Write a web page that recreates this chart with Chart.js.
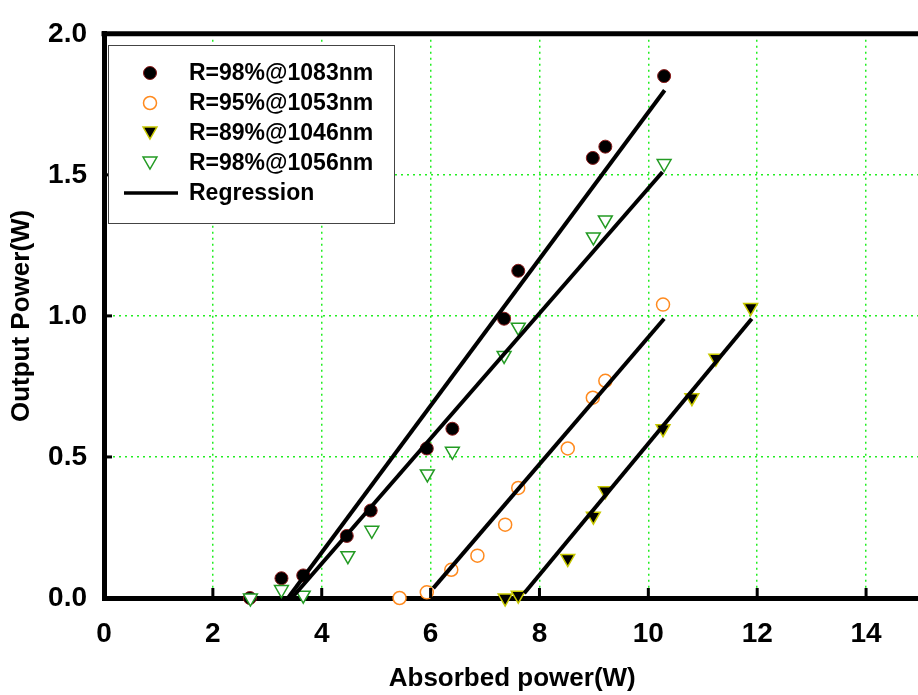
<!DOCTYPE html>
<html>
<head>
<meta charset="utf-8">
<script src="https://cdn.jsdelivr.net/npm/chart.js@4"></script>
<style>
  html, body { margin: 0; padding: 0; background: #fff; overflow: hidden; }
  #wrap { width: 930px; height: 695px; }
</style>
</head>
<body>
<div id="wrap"><canvas id="myChart" width="930" height="695"></canvas></div>
<script>
const FONT = "'Liberation Sans', Arial, sans-serif";

const seriesNames = ["R=98%@1083nm", "R=95%@1053nm", "R=89%@1046nm", "R=98%@1056nm"];

// absorbed power (W) / output power (W)
const s1X = [2.68, 3.26, 3.66, 4.46, 4.90, 5.93, 6.40, 7.35, 7.61, 8.98, 9.21, 10.29];
const s1Y = [0.00, 0.07, 0.08, 0.22, 0.31, 0.53, 0.60, 0.99, 1.16, 1.56, 1.60, 1.85];
const s2X = [5.43, 5.93, 6.38, 6.86, 7.37, 7.61, 8.52, 8.98, 9.21, 10.27];
const s2Y = [0.00, 0.02, 0.10, 0.15, 0.26, 0.39, 0.53, 0.71, 0.77, 1.04];
const s3X = [7.37, 7.61, 8.52, 8.99, 9.21, 10.27, 10.80, 11.24, 11.88];
const s3Y = [0.00, 0.01, 0.14, 0.29, 0.38, 0.60, 0.71, 0.85, 1.03];
const s4X = [2.69, 3.26, 3.66, 4.48, 4.92, 5.94, 6.40, 7.35, 7.61, 8.99, 9.21, 10.29];
const s4Y = [0.00, 0.03, 0.01, 0.15, 0.24, 0.44, 0.52, 0.86, 0.96, 1.28, 1.34, 1.54];

// regression line end points
const reg1X = [3.38, 10.30], reg1Y = [0.00, 1.80];
const reg2X = [3.45, 10.26], reg2Y = [0.00, 1.51];
const reg3X = [6.05, 10.29], reg3Y = [0.035, 0.99];
const reg4X = [7.72, 11.90], reg4Y = [0.017, 0.99];

const xTicks = [0, 2, 4, 6, 8, 10, 12, 14];
const yTicks = [0, 0.5, 1.0, 1.5, 2.0];

const pts = (xs, ys) => xs.map((x, i) => ({ x: x, y: ys[i] }));

const styles = [
  { pointStyle: "circle", rotation: 0, radius: 6.5, bg: "#000000", border: "#8b1a1a", bw: 1 },
  { pointStyle: "circle", rotation: 0, radius: 6.5, bg: "#ffffff", border: "#ff8a1e", bw: 1.5 },
  { pointStyle: "triangle", rotation: 180, radius: 8, bg: "#000000", border: "#c8c800", bw: 1.5 },
  { pointStyle: "triangle", rotation: 180, radius: 8, bg: "#ffffff", border: "#239b23", bw: 1.5 },
];
const order = [4, 3, 2, 1];

const scatterSets = [pts(s1X, s1Y), pts(s2X, s2Y), pts(s3X, s3Y), pts(s4X, s4Y)].map((d, i) => ({
  label: seriesNames[i],
  data: d,
  pointStyle: styles[i].pointStyle,
  rotation: styles[i].rotation,
  pointRadius: styles[i].radius,
  pointHoverRadius: styles[i].radius,
  backgroundColor: styles[i].bg,
  borderColor: styles[i].border,
  pointBorderWidth: styles[i].bw,
  showLine: false,
  clip: false,
  order: order[i],
}));

const regSets = [pts(reg1X, reg1Y), pts(reg2X, reg2Y), pts(reg3X, reg3Y), pts(reg4X, reg4Y)].map((d) => ({
  label: "Regression",
  data: d,
  showLine: true,
  borderColor: "#000000",
  borderWidth: 4,
  pointRadius: 0,
  clip: false,
  order: 0,
}));

function markerPath(ctx, st, x, y) {
  ctx.beginPath();
  if (st.pointStyle === "circle") {
    ctx.arc(x, y, st.radius, 0, Math.PI * 2);
  } else {
    let rad = st.rotation * Math.PI / 180;
    for (let k = 0; k < 3; k++) {
      const px = x + Math.sin(rad) * st.radius;
      const py = y - Math.cos(rad) * st.radius;
      if (k === 0) ctx.moveTo(px, py); else ctx.lineTo(px, py);
      rad += 2 * Math.PI / 3;
    }
    ctx.closePath();
  }
}

const framePlugin = {
  id: "frame",
  afterDatasetsDraw(chart) {
    const ctx = chart.ctx;
    const a = chart.chartArea;
    const xs = chart.scales.x, ys = chart.scales.y;
    ctx.save();
    // top frame line
    ctx.strokeStyle = "#000";
    ctx.lineWidth = 5;
    ctx.beginPath();
    ctx.moveTo(a.left - 2.5, a.top);
    ctx.lineTo(chart.width, a.top);
    ctx.stroke();
    // inward tick marks
    ctx.lineWidth = 3;
    xTicks.slice(1).forEach((v) => {
      const px = xs.getPixelForValue(v);
      ctx.beginPath();
      ctx.moveTo(px, a.bottom);
      ctx.lineTo(px, a.bottom - 10);
      ctx.stroke();
    });
    yTicks.slice(1, -1).forEach((v) => {
      const py = ys.getPixelForValue(v);
      ctx.beginPath();
      ctx.moveTo(a.left, py);
      ctx.lineTo(a.left + 8, py);
      ctx.stroke();
    });
    ctx.restore();
  },
  afterDraw(chart) {
    // legend box inside the plot
    const ctx = chart.ctx;
    const bx = 108, by = 45, bw = 286, bh = 178;
    ctx.save();
    ctx.fillStyle = "#fff";
    ctx.fillRect(bx, by, bw, bh);
    ctx.strokeStyle = "#444";
    ctx.lineWidth = 1;
    ctx.strokeRect(bx + 0.5, by + 0.5, bw, bh);
    ctx.font = "bold 23px " + FONT;
    ctx.textBaseline = "middle";
    ctx.textAlign = "left";
    for (let i = 0; i < 5; i++) {
      const ry = 73 + i * 30;
      if (i < 4) {
        const st = styles[i];
        markerPath(ctx, st, 150, ry - (st.pointStyle === "triangle" ? 2 : 0));
        ctx.fillStyle = st.bg;
        ctx.fill();
        ctx.strokeStyle = st.border;
        ctx.lineWidth = st.bw;
        ctx.stroke();
      } else {
        ctx.strokeStyle = "#000";
        ctx.lineWidth = 3.5;
        ctx.beginPath();
        ctx.moveTo(124, ry);
        ctx.lineTo(178, ry);
        ctx.stroke();
      }
      ctx.fillStyle = "#000";
      ctx.fillText(i < 4 ? seriesNames[i] : "Regression", 189, ry + 1);
    }
    ctx.restore();
  },
};

const config = {
  type: "scatter",
  data: { datasets: [...scatterSets, ...regSets] },
  options: {
    responsive: false,
    animation: false,
    events: [],
    layout: { padding: { top: 23, right: 3, left: 0, bottom: 0 } },
    plugins: { legend: { display: false }, tooltip: { enabled: false } },
    scales: {
      x: {
        type: "linear",
        min: 0,
        max: 15,
        afterBuildTicks: (scale) => {
          scale.ticks = xTicks.map((v) => ({ value: v }));
        },
        afterFit: (scale) => { scale.height = 97; },
        ticks: {
          color: "#000",
          padding: 19,
          maxRotation: 0,
          font: { family: FONT, size: 28, weight: "bold" },
          callback: (v) => String(v),
        },
        grid: { color: "#22ee22", lineWidth: 1.5, drawTicks: false },
        border: { color: "#000", width: 5, dash: [2, 4] },
        title: {
          display: true,
          text: "Absorbed power(W)",
          color: "#000",
          padding: { top: 0, bottom: 1 },
          font: { family: FONT, size: 26, weight: "bold" },
        },
      },
      y: {
        type: "linear",
        min: 0,
        max: 2,
        afterBuildTicks: (scale) => {
          scale.ticks = yTicks.map((v) => ({ value: v }));
        },
        afterFit: (scale) => { scale.width = 104; },
        ticks: {
          color: "#000",
          padding: 17,
          font: { family: FONT, size: 28, weight: "bold" },
          callback: (v) => Number(v).toFixed(1),
        },
        grid: { color: "#22ee22", lineWidth: 1.5, drawTicks: false },
        border: { color: "#000", width: 5, dash: [2, 4] },
        title: {
          display: true,
          text: "Output Power(W)",
          color: "#000",
          padding: { top: 6, bottom: 0 },
          font: { family: FONT, size: 26, weight: "bold" },
        },
      },
    },
  },
  plugins: [framePlugin],
};

var myChart = new Chart(document.getElementById("myChart"), config);
</script>
</body>
</html>
